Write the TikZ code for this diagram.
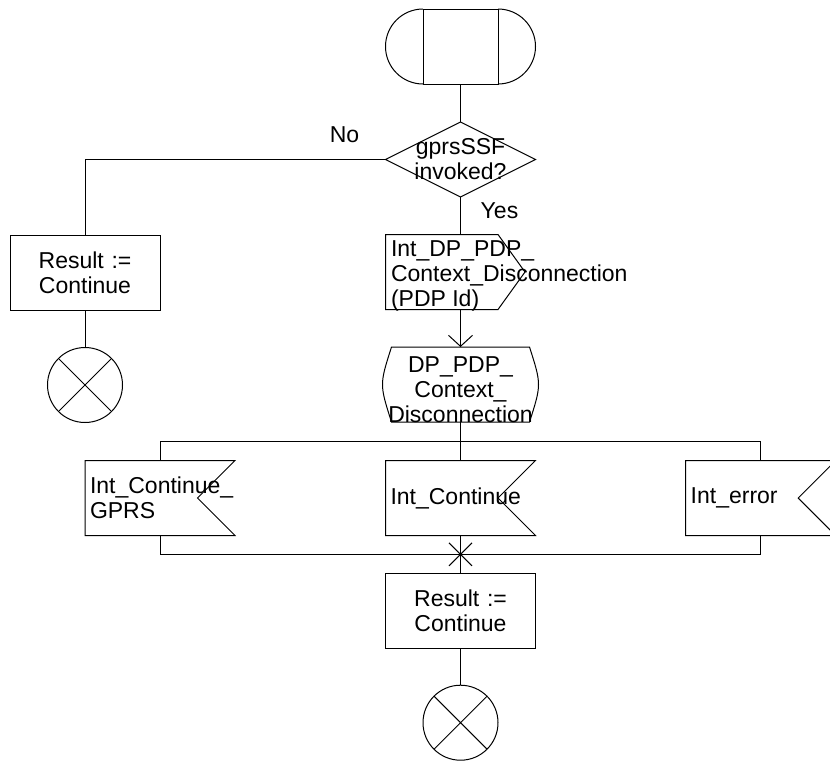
\documentclass[tikz,border=0pt]{standalone}
\usepackage{fontspec}
\setmainfont{Liberation Sans}
\usepackage{tikz}
\usetikzlibrary{arrows.meta, calc}

\tikzset{
    sym/.style={minimum width=75pt, minimum height=37.5pt, inner sep=0pt, outer sep=0pt,
                font=\fontsize{11.5}{12.5}\selectfont},
    symtxt/.style={sym, inner xsep=2.5pt, text width=70pt, align=center},
    symleft/.style={sym, inner xsep=2.5pt, text width=70pt, align=left},
    freetxt/.style={inner sep=0pt, font=\fontsize{11.5}{12.5}\selectfont},
    taskbox/.style={symtxt, draw},
    endsym/.style={circle, draw, minimum size=37.5pt, inner sep=0pt,
                   path picture={\draw (path picture bounding box.north west) -- (path picture bounding box.south east)
                                       (path picture bounding box.north east) -- (path picture bounding box.south west);}},
    lbl/.style={font=\fontsize{11.5}{12.5}\selectfont, inner sep=0pt}
}

\begin{document}
\begin{tikzpicture}[x=0.5pt, y=-0.5pt, line width=0.5pt]
    \useasboundingbox (0,0) rectangle (830,761);

    % start
    \node[sym, minimum width=37.5pt, draw] (start) at (460.5,46.5) {};
    \draw (start.north west) arc[start angle=90, end angle=270, radius=18.75pt];
    \draw (start.north east) arc[start angle=90, end angle=-90, radius=18.75pt];

    % decision
    \node[symtxt] (dec) at (460.5,159.5) {gprsSSF\\invoked?};
    \draw (dec.north) -- (dec.east) -- (dec.south) -- (dec.west) -- cycle;
    \node[lbl] (no) at (344.5,135) {No};
    \node[lbl] (yes) at (499.5,211) {Yes};

    % no branch
    \node[taskbox] (res1) at (85,272.5) {Result :=\\Continue};
    \node[endsym] (stop1) at (85,385) {};

    % yes branch
    \node[sym] (out) at (460.5,272) {};
    \draw (out.north west) -- ([xshift=-18.75pt]out.north east) -- ([xshift=-5.25pt]out.east)
          -- ([xshift=-18.75pt]out.south east) -- (out.south west) -- cycle;
    \node[freetxt, anchor=west, align=left] (outtxt) at ([xshift=2.5pt, yshift=-2pt]out.west)
        {Int\_DP\_PDP\_\\Context\_Disconnection\\(PDP Id)};

    \node[sym] (dp) at (460.5,384.5) {};
    \draw ([xshift=3pt]dp.north west) -- ([xshift=-3pt]dp.north east)
          .. controls ([xshift=3pt]dp.east) .. ([xshift=-3pt]dp.south east)
          -- ([xshift=3pt]dp.south west)
          .. controls ([xshift=-3pt]dp.west) .. ([xshift=3pt]dp.north west) -- cycle;
    \node[freetxt, align=center] (dptxt) at ([yshift=-2.5pt]dp.center)
        {DP\_PDP\_\\Context\_\\Disconnection};

    % inputs
    \coordinate (split) at (460.5,441.7);
    \coordinate (merge) at (460.5,554.3);
    \node[symleft] (inl) at (160,498) {Int\_Continue\_\\GPRS};
    \node[symleft] (inm) at (460.5,498) {Int\_Continue};
    \node[symleft] (inr) at (760.7,498) {Int\_error};
    \foreach \n in {inl, inm, inr}
        \draw (\n.north west) -- (\n.north east) -- ([xshift=-18.75pt]\n.east)
              -- (\n.south east) -- (\n.south west) -- cycle;

    \node[taskbox] (res2) at (460.5,610.7) {Result :=\\Continue};
    \node[endsym] (stop2) at (460.5,722.7) {};

    % connectors
    \draw (start) -- (dec);
    \draw (dec.west) -| (res1);
    \draw (res1) -- (stop1);
    \draw (dec) -- (out);
    \draw[-{Straight Barb[length=5.5pt, width=12pt]}] (out) -- (dp);
    \draw (dp) -- (inm);
    \draw (inl.north) -- (inl.north |- split) -- (inr.north |- split) -- (inr.north);
    \draw (inl.south) -- (inl.south |- merge) -- (inr.south |- merge) -- (inr.south);
    \draw (inm) -- (res2);
    \draw ([shift={(-11.5,-11.5)}]merge) -- ([shift={(11.5,11.5)}]merge)
          ([shift={(11.5,-11.5)}]merge) -- ([shift={(-11.5,11.5)}]merge);
    \draw (res2) -- (stop2);
\end{tikzpicture}
\end{document}
